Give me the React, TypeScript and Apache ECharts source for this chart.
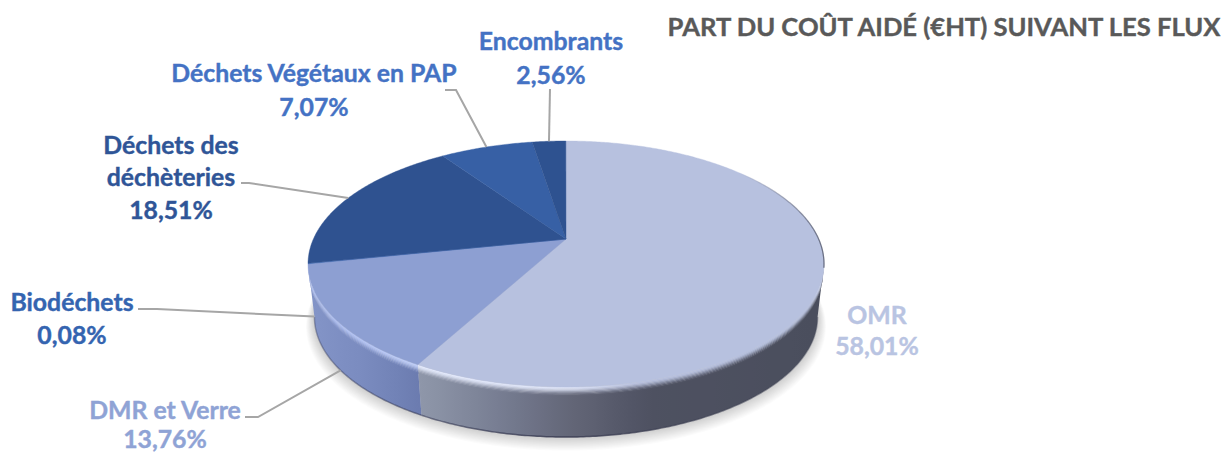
import React, { useEffect, useRef } from "react";
import * as echarts from "echarts";

const titleText = "PART DU COÛT AIDÉ (€HT) SUIVANT LES FLUX";
const categories = ["OMR", "DMR et Verre", "Biodéchets", "Déchets des\ndéchèteries", "Déchets Végétaux en PAP", "Encombrants"];
const shares = [58.01, 13.76, 0.08, 18.51, 7.07, 2.56];

const topColors = ["#b7c1df", "#8d9fd2", "#3a66b0", "#2f5290", "#3760a5", "#2e5290"];
const labelColors = ["#b9c4e2", "#8fa3d5", "#3464b0", "#2f5597", "#4472c4", "#4472c4"];
const wallStops: [number, string][][] = [
  [[421, "#8f97aa"], [500, "#777d92"], [566, "#646779"], [650, "#4e5161"], [830, "#4a4e5d"]],
  [[305, "#8495c8"], [365, "#7a8bbf"], [425, "#6a7aae"]],
  [[305, "#3a66b0"], [310, "#3a66b0"]],
  [[305, "#2f5290"], [310, "#2f5290"]],
  [[305, "#3760a5"], [310, "#3760a5"]],
  [[305, "#2e5290"], [310, "#2e5290"]],
];
const bevelStops: [number, string][][] = [
  [[421, "#e4eafc"], [570, "#dfe5f8"], [640, "#b7c0de"], [830, "#b7c1df"]],
  [[305, "#a9baf0"], [425, "#c2d0f8"]],
  [[305, "#3a66b0"], [310, "#3a66b0"]],
  [[305, "#2f5290"], [310, "#2f5290"]],
  [[305, "#3760a5"], [310, "#3760a5"]],
  [[305, "#2e5290"], [310, "#2e5290"]],
];

// Label layout: text centre and line spacing, then the free end of each leader.
const labelCenters = [[877, 314], [165, 409], [72, 301], [171, 144], [314, 72], [551, 40]];
const lineSteps = [31, 29, 33, 32.5, 34, 34];
const leaderElbows: number[][][] = [
  [],
  [[245, 417], [258, 417]],
  [[138, 309], [157, 309]],
  [[241, 183], [249, 183]],
  [[445, 90], [456, 90]],
  [[550, 89]],
];
const leaderOnBottomRim = [false, true, true, false, false, false];

// Perspective view of the disc
const apexX = 566, apexY = 239;
const rimBack = 98, rimFront = 148, halfWidth = 258;
const k = (rimFront - rimBack) / (rimFront + rimBack);
const B = rimBack * (1 + k);
const A = halfWidth * Math.sqrt(1 - k * k);
const shrink = 0.975, bottomFrontY = 437;
const bottomApexY = bottomFrontY - rimFront * shrink;
const total = 100;

const rad = (pct: number) => (pct / total) * Math.PI * 2;
const rel = (a: number) => {
  const u = Math.sin(a), v = Math.cos(a), w = 1 + k * v;
  return [(A * u) / w, (-B * v) / w];
};
const topPt = (a: number) => { const p = rel(a); return [apexX + p[0], apexY + p[1]]; };
const botPt = (a: number) => { const p = rel(a); return [apexX + shrink * p[0], bottomApexY + shrink * p[1]]; };
const arc = (a0: number, a1: number, fn: (a: number) => number[]) => {
  const n = Math.max(2, Math.ceil(Math.abs(a1 - a0) / 0.01));
  const out: number[][] = [];
  for (let i = 0; i <= n; i++) out.push(fn(a0 + ((a1 - a0) * i) / n));
  return out;
};
const wallFrom = Math.acos(-k);
const wallTo = Math.PI * 2 - Math.acos(-k);

const hexMix = (c0: string, c1: string, f: number) => {
  const p = (c: string) => [1, 3, 5].map((i) => parseInt(c.slice(i, i + 2), 16));
  const a = p(c0), b = p(c1);
  return "#" + a.map((x, i) => Math.round(x + (b[i] - x) * f).toString(16).padStart(2, "0")).join("");
};
const colorAt = (stops: [number, string][], x: number) => {
  if (x <= stops[0][0]) return stops[0][1];
  for (let i = 1; i < stops.length; i++) {
    if (x <= stops[i][0]) {
      return hexMix(stops[i - 1][1], stops[i][1], (x - stops[i - 1][0]) / (stops[i][0] - stops[i - 1][0]));
    }
  }
  return stops[stops.length - 1][1];
};
const xGradient = (stopsOf: (x: number) => string) => {
  const x0 = 300, x1 = 830, n = 27;
  const colorStops = [];
  for (let i = 0; i <= n; i++) {
    const x = x0 + ((x1 - x0) * i) / n;
    colorStops.push({ offset: i / n, color: stopsOf(x) });
  }
  return new echarts.graphic.LinearGradient(x0, 0, x1, 0, colorStops, true);
};

const cumulative = shares.map((_, i) => shares.slice(0, i).reduce((s, v) => s + v, 0));
const rows = shares.map((v, i) => [v, cumulative[i]]);

const renderWall = (params: any, api: any) => {
  const i = params.dataIndex;
  const a0 = Math.max(rad(api.value(1)), wallFrom);
  const a1 = Math.min(rad(api.value(1) + api.value(0)), wallTo);
  const children: any[] = [];
  if (i === 0) {
    // soft ground shadow: stacked, slightly larger copies of the bottom face
    const layers = 12;
    for (let l = layers; l >= 1; l--) {
      const grow = 1 + l * 0.0028;
      const cy = bottomApexY + 25;
      const pts = arc(0, Math.PI * 2, botPt).map((p) => [
        apexX + (p[0] - apexX) * grow,
        cy + (p[1] - cy) * grow + l * 0.8,
      ]);
      children.push({ type: "polygon", shape: { points: pts }, style: { fill: "rgba(0,0,0,0.016)" } });
    }
  }
  if (a1 <= a0) return { type: "group", children };
  const bevelBands = 7, bevelDepth = 0.17;
  const band = (t0: number, t1: number) => {
    const at = (t: number) => (a: number) => {
      const p = topPt(a), q = botPt(a);
      return [p[0] + (q[0] - p[0]) * t, p[1] + (q[1] - p[1]) * t];
    };
    return [...arc(a0, a1, at(t0)), ...arc(a0, a1, at(t1)).reverse()];
  };
  children.push({
    type: "polygon",
    shape: { points: band(bevelDepth * 0.9, 1) },
    style: { fill: xGradient((x) => colorAt(wallStops[i], x)) },
  });
  for (let b = bevelBands - 1; b >= 0; b--) {
    const f = (b + 0.5) / bevelBands;
    const t0 = (b / bevelBands) * bevelDepth;
    const t1 = ((b + 1.3) / bevelBands) * bevelDepth;
    children.push({
      type: "polygon",
      shape: { points: band(t0, t1) },
      style: { fill: xGradient((x) => hexMix(colorAt(bevelStops[i], x), colorAt(wallStops[i], x), f * f * (3 - 2 * f))) },
    });
  }
  children.push({
    type: "polyline",
    shape: { points: arc(a0, a1, botPt) },
    style: {
      fill: "none",
      lineWidth: 1.5,
      stroke: new echarts.graphic.LinearGradient(300, 0, 830, 0, [
        { offset: 0, color: "rgba(50,56,90,0.35)" },
        { offset: 0.5, color: "rgba(50,52,75,0.8)" },
        { offset: 1, color: "rgba(70,74,90,0.4)" },
      ], true),
    },
  });
  return { type: "group", children };
};

const renderTop = (params: any, api: any) => {
  const i = params.dataIndex;
  const a0 = rad(api.value(1));
  const a1 = rad(api.value(1) + api.value(0));
  const children: any[] = [{
    type: "polygon",
    shape: { points: [[apexX, apexY], ...arc(a0, a1, topPt)] },
    style: { fill: topColors[i], stroke: topColors[i], lineWidth: 0.4 },
  }];
  if (i === 0) {
    children.push({
      type: "polyline",
      shape: { points: arc(0.75, wallFrom + 0.03, topPt) },
      style: {
        fill: "none",
        lineWidth: 1.3,
        stroke: new echarts.graphic.LinearGradient(740, 0, 826, 0, [
          { offset: 0, color: "rgba(90,95,115,0)" },
          { offset: 1, color: "rgba(80,85,105,0.8)" },
        ], true),
      },
    });
  }
  return { type: "group", children };
};

const renderLabel = (params: any, api: any) => {
  const i = params.dataIndex;
  const mid = rad(api.value(1) + api.value(0) / 2);
  const end = leaderOnBottomRim[i] ? botPt(mid) : topPt(mid);
  const children: any[] = [];
  if (leaderElbows[i].length) {
    children.push({
      type: "polyline",
      shape: { points: [...leaderElbows[i], end] },
      style: { fill: "none", stroke: "#a6a6a6", lineWidth: 2 },
    });
  }
  const pct = api.value(0).toFixed(2).replace(".", ",") + "%";
  const lines = [...categories[i].split("\n"), pct];
  const [cx, cy] = labelCenters[i];
  lines.forEach((line, n) => {
    children.push({
      type: "text",
      style: {
        text: line, x: cx, y: cy + n * lineSteps[i], align: "center", verticalAlign: "middle",
        fontFamily: "Lato", fontWeight: "bold", fontSize: 24.8, fill: labelColors[i],
        stroke: labelColors[i], lineWidth: 0.4,
      },
    });
  });
  return { type: "group", children };
};

export default function App() {
  const ref = useRef<HTMLDivElement>(null);
  useEffect(() => {
    document.body.style.margin = "0";
    document.body.style.background = "#ffffff";
    const chart = echarts.init(ref.current!, null, { renderer: "svg" });
    chart.setOption({
      animation: false,
      backgroundColor: "#ffffff",
      title: {
        text: titleText, right: 0, top: 13, padding: 0,
        textStyle: {
          fontFamily: "Lato", fontWeight: "bold", fontSize: 25.6, color: "#595959",
          textBorderColor: "#595959", textBorderWidth: 0.4,
        },
      },
      series: [
        { type: "custom", coordinateSystem: "none", silent: true, z: 2, data: rows, renderItem: renderWall },
        { type: "custom", coordinateSystem: "none", silent: true, z: 3, data: rows, renderItem: renderTop },
        { type: "custom", coordinateSystem: "none", silent: true, z: 4, data: rows, renderItem: renderLabel },
      ],
    });
    return () => chart.dispose();
  }, []);
  return <div ref={ref} style={{ width: 1224, height: 452 }} />;
}
